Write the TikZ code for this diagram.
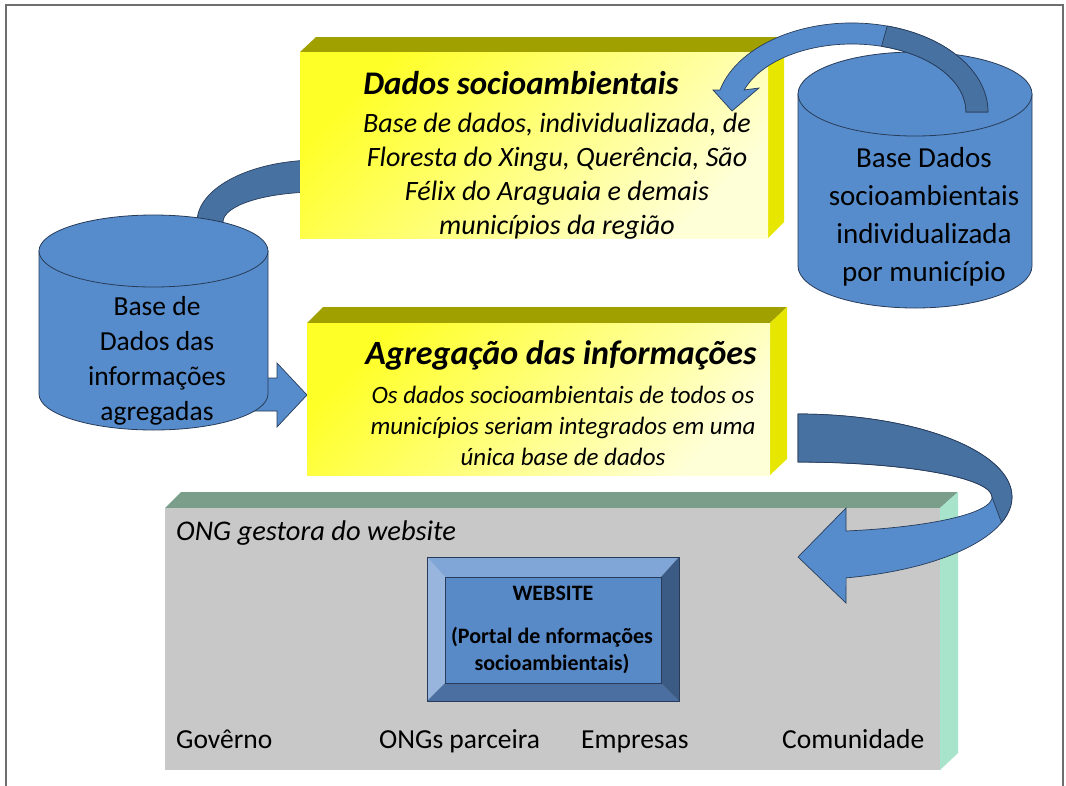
\documentclass[tikz,border=0pt]{standalone}
\usepackage{fontspec}
\setmainfont{Carlito}
\newcommand{\myfs}[2]{\fontsize{#1}{#2}\selectfont}
\definecolor{cylblue}{RGB}{86,140,203}
\definecolor{arrdark}{RGB}{70,113,161}
\definecolor{outl}{RGB}{40,60,90}
\definecolor{ytop}{RGB}{160,160,0}
\definecolor{yside}{RGB}{230,230,0}
\definecolor{yfrontA}{RGB}{255,255,40}
\definecolor{yfrontB}{RGB}{255,255,215}
\definecolor{gfront}{RGB}{200,200,200}
\definecolor{gtop}{RGB}{122,158,138}
\definecolor{gside}{RGB}{168,228,204}
\definecolor{wtop}{RGB}{127,166,214}
\definecolor{wleft}{RGB}{151,181,221}
\definecolor{wright}{RGB}{59,91,133}
\definecolor{wbottom}{RGB}{74,111,160}
\definecolor{wface}{RGB}{88,138,200}
\definecolor{framec}{RGB}{110,110,110}
\begin{document}
\begin{tikzpicture}[x=1pt,y=-1pt,
  frameline/.style={draw=framec,line width=1.1pt},
  cyl/.style={fill=cylblue,draw=outl,line width=0.8pt},
  lightarrow/.style={fill=cylblue,draw=outl,line width=0.7pt},
  darkarrow/.style={fill=arrdark,draw=outl,line width=0.7pt},
  yfront/.style={shading=axis,top color=yfrontA,bottom color=yfrontB,shading angle=45},
  ytopface/.style={fill=ytop},
  ysideface/.style={fill=yside},
  txt/.style={text=black,inner sep=0pt}]
\useasboundingbox (0,0) rectangle (1066,785);
\fill[white] (0,0) rectangle (1066,785);
% frame
\draw[frameline] (6,790) -- (6,5) -- (1063,5) -- (1063,790);

% arrow from left cylinder to box 1 (behind)
\path[darkarrow] (197,222) arc[start angle=180,end angle=270,x radius=121,y radius=62]
  -- (318,192) arc[start angle=270,end angle=180,x radius=95,y radius=30] -- cycle;

% box 1
\path[ytopface] (300,52) -- (316,37) -- (784,37) -- (768,52) -- cycle;
\path[ysideface] (768,52) -- (784,37) -- (784,222) -- (768,238) -- cycle;
\path[yfront] (300,52) rectangle (768,238);
\node[inner sep=0] (box1) at (534,145) {};

% right cylinder
\path[cyl] (798,94) -- (798,266) arc[start angle=180,end angle=0,x radius=117,y radius=42] -- (1032,94) -- cycle;
\path[cyl] (915,94) ellipse[x radius=117,y radius=42];

% curved arrow cylinder -> box 1
\path[lightarrow] (966,112) arc[start angle=0,end angle=-161.1,x radius=114,y radius=68]
  -- (759,88) -- (732,111) -- (713,90) -- (720,90)
  arc[start angle=-165.7,end angle=0,x radius=136,y radius=89] -- cycle;
\path[darkarrow] (966,112) arc[start angle=0,end angle=-75,x radius=114,y radius=68]
  -- (887.2,26) arc[start angle=-75,end angle=0,x radius=136,y radius=89] -- cycle;

% block arrow left cylinder -> box 2
\path[lightarrow] (230,378) -- (277,378) -- (277,363) -- (307,395) -- (277,427) -- (277,411) -- (230,411) -- cycle;

% left cylinder
\path[cyl] (39,251) -- (39,394) arc[start angle=180,end angle=0,x radius=114.5,y radius=36] -- (268,251) -- cycle;
\path[cyl] (153.5,251) ellipse[x radius=114.5,y radius=36];

% box 2
\path[ytopface] (307,323) -- (323,307) -- (787,307) -- (770,323) -- cycle;
\path[ysideface] (770,323) -- (787,307) -- (787,459) -- (770,475) -- cycle;
\path[yfront] (307,323) rectangle (770,475);

% gray box
\path[fill=gtop] (165,508) -- (181,492) -- (958,492) -- (940,508) -- cycle;
\path[fill=gside] (940,508) -- (958,492) -- (958,753) -- (940,770) -- cycle;
\path[fill=gfront] (165,508) rectangle (940,770);

% website bevel box
\path[fill=wtop] (427,557) -- (679,557) -- (661,577) -- (445,577) -- cycle;
\path[fill=wleft] (427,557) -- (445,577) -- (445,683) -- (427,701) -- cycle;
\path[fill=wbottom] (427,701) -- (445,683) -- (661,683) -- (679,701) -- cycle;
\path[fill=wright] (679,557) -- (661,577) -- (661,683) -- (679,701) -- cycle;
\path[fill=wface] (445,577) rectangle (661,683);
\draw[outl,line width=0.8pt] (427,557) rectangle (679,701);
\draw[outl,line width=0.4pt] (445,577) rectangle (661,683);

% U-turn arrow box 2 -> gray box
\path[lightarrow] (798,414) arc[start angle=-90,end angle=77,x radius=214,y radius=83]
  -- (846,603) -- (798,557) -- (846,508) -- (846,531)
  arc[start angle=75.7,end angle=-90,x radius=194,y radius=35] -- cycle;
\path[darkarrow] (798,414) arc[start angle=-90,end angle=18,x radius=214,y radius=83]
  -- (992,497) arc[start angle=0,end angle=-90,x radius=194,y radius=35] -- cycle;

% texts
\node[txt,font=\myfs{33}{40}\bfseries\itshape] (t1) at (521,83) {Dados socioambientais};
\node[txt,align=center,font=\myfs{28}{34}\itshape] (b1) at (557,176)
  {Base de dados, individualizada, de\\Floresta do Xingu, Querência, São\\Félix do Araguaia e demais\\municípios da região};
\node[txt,font=\myfs{34}{40}\bfseries\itshape] (t2) at (561,355) {Agregação das informações};
\node[txt,align=center,font=\myfs{25}{31}\itshape] (b2) at (563,426)
  {Os dados socioambientais de todos os\\municípios seriam integrados em uma\\única base de dados};
\node[txt,align=center,font=\myfs{29}{38}] (c1t) at (924,217)
  {Base Dados\\socioambientais\\individualizada\\por município};
\node[txt,align=center,font=\myfs{27.5}{35}] (c2t) at (157,361)
  {Base de\\Dados das\\informações\\agregadas};
\node[txt,anchor=base west,font=\myfs{28.5}{34}\itshape] (ong) at (176,540) {ONG gestora do website};
\node[txt,font=\myfs{22}{27}\bfseries] (ws) at (553,593) {WEBSITE};
\node[txt,align=center,font=\myfs{22}{27}\bfseries] (ws2) at (552,650)
  {(Portal de nformações\\socioambientais)};
\node[txt,anchor=base west,font=\myfs{27.5}{33}] (gov) at (176,748) {Govêrno};
\node[txt,anchor=base west,font=\myfs{27.5}{33}] (ongp) at (379,748) {ONGs parceira};
\node[txt,anchor=base west,font=\myfs{27.5}{33}] (emp) at (581,748) {Empresas};
\node[txt,anchor=base west,font=\myfs{27.5}{33}] (com) at (782,748) {Comunidade};
\end{tikzpicture}
\end{document}
